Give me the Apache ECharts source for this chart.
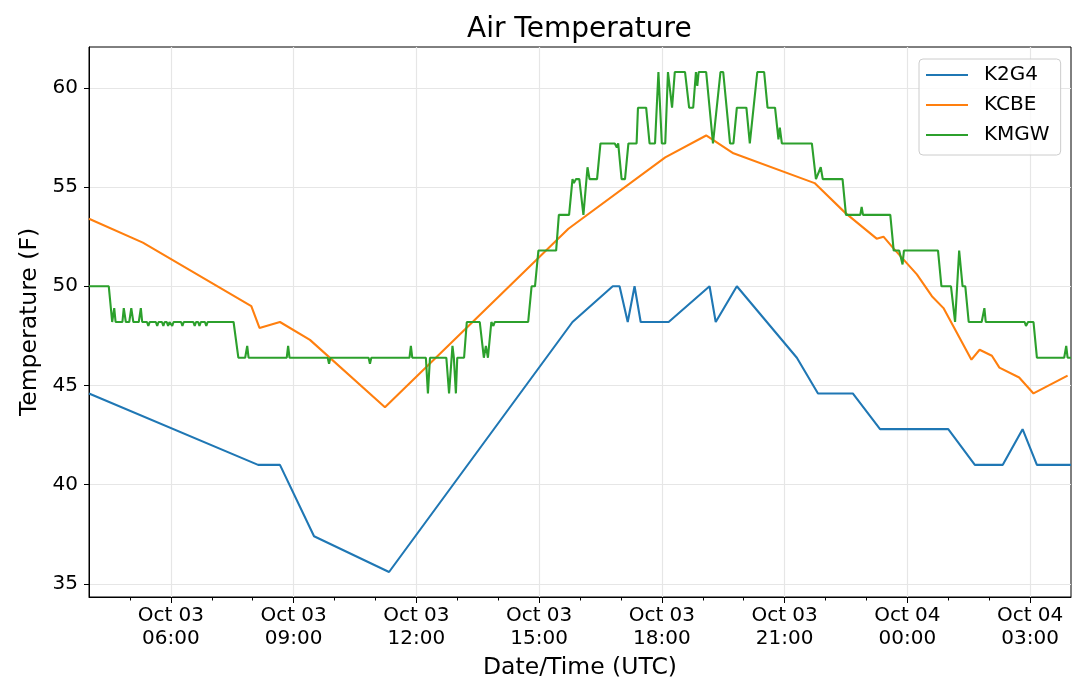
<!DOCTYPE html>
<html>
<head>
<meta charset="utf-8">
<script src="https://cdn.jsdelivr.net/npm/echarts@6/dist/echarts.min.js"></script>
<style>
  html, body { margin: 0; padding: 0; background: #fff; }
  #chart { width: 1080px; height: 689px; }
</style>
</head>
<body>
<div id="chart"></div>
<script>
// times are "day hh:mm" in October, UTC
const k2g4Times = ['03 04:00','03 08:08','03 08:40','03 09:30','03 11:20','03 15:49','03 16:48','03 16:58','03 17:10','03 17:20','03 17:29','03 18:10','03 19:10','03 19:19','03 19:50','03 21:18','03 21:49','03 22:40','03 23:20','04 01:00','04 01:39','04 02:20','04 02:49','04 03:10','04 04:00'];
const k2g4Temps = [44.6,41.0,41.0,37.4,35.6,48.2,50.0,50.0,48.2,50.0,48.2,48.2,50.0,48.2,50.0,46.4,44.6,44.6,42.8,42.8,41.0,41.0,42.8,41.0,41.0];

const kcbeTimes = ['03 04:00','03 05:19','03 07:58','03 08:10','03 08:40','03 09:24','03 11:14','03 15:43','03 18:05','03 19:05','03 19:45','03 21:44','03 22:29','03 23:15','03 23:25','03 23:40','04 00:14','04 00:36','04 00:53','04 01:34','04 01:46','04 02:04','04 02:15','04 02:44','04 03:05','04 03:55'];
const kcbeTemps = [53.4,52.2,49.0,47.9,48.2,47.3,43.9,52.9,56.5,57.6,56.7,55.2,53.7,52.4,52.5,51.9,50.6,49.5,48.9,46.3,46.8,46.5,45.9,45.4,44.6,45.5];

const kmgwTimes = [
  '03 04:00','03 04:29','03 04:34','03 04:37','03 04:39','03 04:49','03 04:51','03 04:54','03 04:59','03 05:02',
  '03 05:05','03 05:13','03 05:16','03 05:18','03 05:25','03 05:27','03 05:29','03 05:38','03 05:40','03 05:42',
  '03 05:47','03 05:49','03 05:51','03 05:54','03 05:56','03 05:58','03 06:00','03 06:02','03 06:04','03 06:15',
  '03 06:17','03 06:19','03 06:33','03 06:35','03 06:37','03 06:40','03 06:42','03 06:44','03 06:50','03 06:52',
  '03 06:54','03 07:32','03 07:39','03 07:49','03 07:52','03 07:54','03 08:50','03 08:52','03 08:54','03 09:50',
  '03 09:52','03 09:54','03 10:50','03 10:52','03 10:54','03 11:50','03 11:52','03 11:54','03 12:14','03 12:17',
  '03 12:20','03 12:44','03 12:48','03 12:53','03 12:55','03 12:58','03 13:00','03 13:10','03 13:14','03 13:33',
  '03 13:39','03 13:42','03 13:45','03 13:50','03 13:53','03 13:55','03 14:44','03 14:49','03 14:54','03 14:59',
  '03 15:25','03 15:29','03 15:44','03 15:49','03 15:51','03 15:54','03 15:59','03 16:05','03 16:11','03 16:14',
  '03 16:25','03 16:30','03 16:51','03 16:54','03 16:56','03 17:01','03 17:06','03 17:11','03 17:23','03 17:25',
  '03 17:37','03 17:42','03 17:50','03 17:55','03 18:00','03 18:05','03 18:09','03 18:15','03 18:19','03 18:34',
  '03 18:40','03 18:46','03 18:50','03 18:52','03 18:54','03 19:05','03 19:15','03 19:26','03 19:30','03 19:40',
  '03 19:45','03 19:50','03 20:04','03 20:09','03 20:20','03 20:30','03 20:35','03 20:46','03 20:51','03 20:53',
  '03 20:56','03 21:40','03 21:46','03 21:53','03 21:56','03 22:25','03 22:30','03 22:51','03 22:53','03 22:55',
  '03 23:35','03 23:40','03 23:48','03 23:53','03 23:55','04 00:45','04 00:50','04 01:04','04 01:10','04 01:16',
  '04 01:21','04 01:25','04 01:30','04 01:49','04 01:53','04 01:55','04 02:52','04 02:54','04 02:57','04 03:05',
  '04 03:10','04 03:50','04 03:53','04 03:55','04 04:00'
];
const kmgwTemps = [
  50.0,50.0,48.2,48.9,48.2,48.2,48.9,48.2,48.2,48.9,
  48.2,48.2,48.9,48.2,48.2,48.0,48.2,48.2,48.0,48.2,
  48.2,48.0,48.2,48.2,48.0,48.2,48.2,48.0,48.2,48.2,
  48.0,48.2,48.2,48.0,48.2,48.2,48.0,48.2,48.2,48.0,
  48.2,48.2,46.4,46.4,47.0,46.4,46.4,47.0,46.4,46.4,
  46.1,46.4,46.4,46.1,46.4,46.4,47.0,46.4,46.4,44.6,
  46.4,46.4,44.6,47.0,46.4,44.6,46.4,46.4,48.2,48.2,
  46.4,47.0,46.4,48.2,48.0,48.2,48.2,50.0,50.0,51.8,
  51.8,53.6,53.6,55.4,55.2,55.4,55.4,53.6,56.0,55.4,
  55.4,57.2,57.2,57.0,57.2,55.4,55.4,57.2,57.2,59.0,
  59.0,57.2,57.2,60.8,57.2,57.2,60.8,59.0,60.8,60.8,
  59.0,59.0,60.8,60.1,60.8,60.8,57.2,60.8,60.8,57.2,
  57.2,59.0,59.0,57.2,60.8,60.8,59.0,59.0,57.4,58.0,
  57.2,57.2,55.4,56.0,55.4,55.4,53.6,53.6,54.0,53.6,
  53.6,51.8,51.8,51.1,51.8,51.8,50.0,50.0,48.2,51.8,
  50.0,50.0,48.2,48.2,48.9,48.2,48.2,48.0,48.2,48.2,
  46.4,46.4,47.0,46.4,46.4
];

const majorHours = [6, 9, 12, 15, 18, 21, 24, 27];
const minorHours = [5, 7, 8, 10, 11, 13, 14, 16, 17, 19, 20, 22, 23, 25, 26];
const yTicks = [35, 40, 45, 50, 55, 60];

// hours since Oct 03 00:00 UTC
function toHours(s) {
  const parts = s.split(' ');
  const hm = parts[1].split(':');
  return (Number(parts[0]) - 3) * 24 + Number(hm[0]) + Number(hm[1]) / 60;
}
function pairs(times, temps) {
  return times.map(function (t, i) { return [toHours(t), temps[i]]; });
}
function pad(n) { return n < 10 ? '0' + n : '' + n; }

const font = 'DejaVu Sans';
const chart = echarts.init(document.getElementById('chart'), null, { renderer: 'canvas' });

function lineSeries(name, color, data) {
  return {
    name: name,
    type: 'line',
    data: data,
    symbol: 'none',
    lineStyle: { color: color, width: 2.1 },
    itemStyle: { color: color },
    animation: false
  };
}

chart.setOption({
  animation: false,
  title: {
    text: 'Air Temperature',
    left: 467,
    top: 16,
    padding: 0,
    textStyle: { fontFamily: font, fontSize: 28, fontWeight: 'normal', color: '#000' }
  },
  legend: {
    orient: 'vertical',
    left: 919,
    top: 59,
    padding: [6, 11, 10, 7],
    itemGap: 10,
    itemWidth: 42,
    itemHeight: 2,
    icon: 'rect',
    borderColor: '#cccccc',
    borderWidth: 1,
    borderRadius: 4,
    backgroundColor: 'rgba(255,255,255,0.8)',
    textStyle: { fontFamily: font, fontSize: 20, color: '#000', lineHeight: 20, padding: [0, 0, 0, 11] },
    data: ['K2G4', 'KCBE', 'KMGW']
  },
  grid: {
    left: 89, right: 9, top: 47, bottom: 92,
    show: true, borderColor: '#000', borderWidth: 1, backgroundColor: 'transparent'
  },
  xAxis: [{
    type: 'value',
    min: 4,
    max: 28,
    name: 'Date/Time (UTC)',
    nameLocation: 'middle',
    nameGap: 59,
    nameTextStyle: { fontFamily: font, fontSize: 23.5, color: '#000' },
    axisLine: { show: true, lineStyle: { color: '#000', width: 1 } },
    axisTick: { customValues: majorHours, length: 6, lineStyle: { color: '#000' } },
    axisLabel: {
      customValues: majorHours,
      margin: 7,
      fontFamily: font,
      fontSize: 20,
      lineHeight: 23,
      color: '#000',
      formatter: function (v) {
        const day = v < 24 ? '03' : '04';
        return 'Oct ' + day + '\n' + pad(v % 24) + ':00';
      }
    },
    splitLine: { show: true, lineStyle: { color: '#e6e6e6', width: 1.2 } }
  }, {
    type: 'value',
    min: 4,
    max: 28,
    position: 'bottom',
    axisLine: { show: false },
    axisTick: { customValues: minorHours, length: 3.5, lineStyle: { color: '#000' } },
    axisLabel: { show: false },
    splitLine: { show: false }
  }],
  yAxis: {
    type: 'value',
    min: 34.34,
    max: 62.06,
    name: 'Temperature (F)',
    nameLocation: 'middle',
    nameGap: 35,
    nameTextStyle: { fontFamily: font, fontSize: 23.5, color: '#000' },
    axisLine: { show: true, lineStyle: { color: '#000', width: 1 } },
    axisTick: { customValues: yTicks, length: 5, lineStyle: { color: '#000' } },
    axisLabel: { customValues: yTicks, margin: 11, fontFamily: font, fontSize: 20, color: '#000' },
    splitLine: { show: true, lineStyle: { color: '#e6e6e6', width: 1.2 } }
  },
  series: [
    lineSeries('K2G4', '#1f77b4', pairs(k2g4Times, k2g4Temps)),
    lineSeries('KCBE', '#ff7f0e', pairs(kcbeTimes, kcbeTemps)),
    lineSeries('KMGW', '#2ca02c', pairs(kmgwTimes, kmgwTemps))
  ]
});
</script>
</body>
</html>
